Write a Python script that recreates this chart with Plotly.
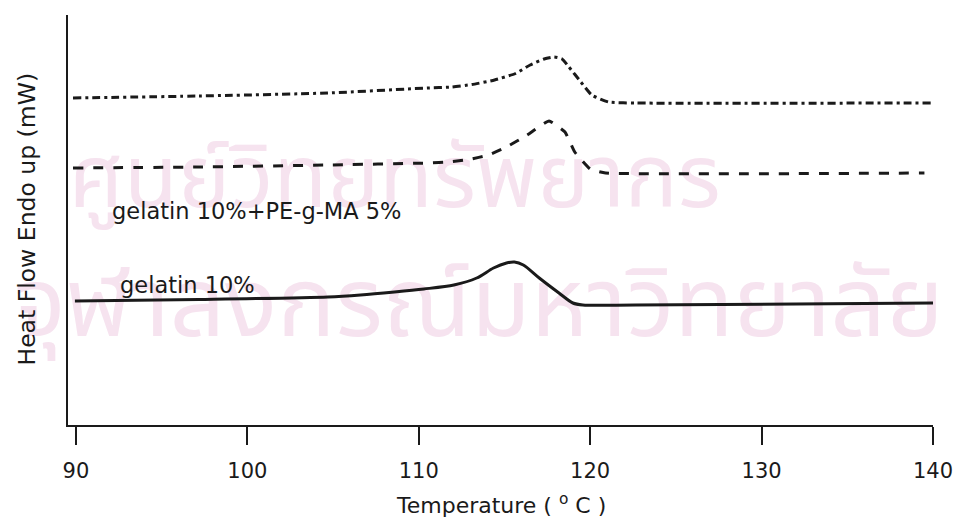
import plotly.graph_objects as go

# Data (temperature in °C, heat flow in arbitrary mW units)
t_solid = [89.94, 97.18, 104.70, 106.60, 108.58, 110.30, 112.05, 113.38, 114.36, 115.12, 115.58, 116.10, 117.03, 118.18, 118.99, 119.57, 122.64, 140.0]
hf_solid = [12.4, 12.55, 12.8, 13.0, 13.3, 13.6, 14.0, 14.7, 15.7, 16.2, 16.3, 16.0, 14.7, 13.2, 12.2, 12.0, 12.0, 12.2]

t_dash = [89.83, 97.18, 104.70, 110.60, 111.76, 112.92, 114.07, 115.12, 116.33, 117.60, 118.53, 119.10, 120.00, 120.90, 139.5]
hf_dash = [25.7, 25.8, 26.0, 26.2, 26.3, 26.55, 27.0, 27.8, 29.0, 30.4, 29.3, 27.3, 25.6, 25.2, 25.2]

t_dd = [89.83, 97.18, 104.70, 110.49, 111.93, 113.09, 114.42, 115.64, 116.50, 117.31, 117.89, 118.36, 118.76, 119.46, 120.09, 121.08, 122.64, 140.0]
hf_dd = [32.7, 32.9, 33.2, 33.7, 33.8, 34.05, 34.5, 35.15, 36.0, 36.6, 36.8, 36.6, 35.8, 34.3, 33.0, 32.3, 32.2, 32.2]

x_ticks = [90, 100, 110, 120, 130, 140]
labels = ["gelatin 10%+PE-g-MA 5%", "gelatin 10%"]
label_x = [91.97, 92.43]
label_y = [21.4, 14.0]

watermark = ["ศูนย์วิทยทรัพยากร", "จุฬาลงกรณ์มหาวิทยาลัย"]
wm_x = [108.6, 113.5]
wm_y = [24.0, 11.3]
wm_size = [88, 97]

FONT = "DejaVu Sans"
INK = "#1a1a1a"

fig = go.Figure()

for txt, wx, wy, ws in zip(watermark, wm_x, wm_y, wm_size):
    fig.add_trace(go.Scatter(
        x=[wx], y=[wy], mode="text", text=[txt],
        textfont=dict(family="Noto Sans Thai, Noto Sans, DejaVu Sans", size=ws, color="#f6e3ef"),
        cliponaxis=False, hoverinfo="skip", showlegend=False))

fig.add_trace(go.Scatter(x=t_dd, y=hf_dd, mode="lines",
    line=dict(color=INK, width=3, dash="8px,4px,3px,4px", shape="spline", smoothing=0.5),
    showlegend=False))
fig.add_trace(go.Scatter(x=t_dash, y=hf_dash, mode="lines",
    line=dict(color=INK, width=3, dash="10px,10px", shape="spline", smoothing=0.35),
    showlegend=False))
fig.add_trace(go.Scatter(x=t_solid, y=hf_solid, mode="lines",
    line=dict(color=INK, width=3, shape="spline", smoothing=0.8),
    showlegend=False))

for txt, lx, ly in zip(labels, label_x, label_y):
    fig.add_annotation(x=lx, y=ly, text=txt, showarrow=False, xanchor="left", yanchor="middle",
                       font=dict(family=FONT, size=22.5, color=INK))

fig.add_annotation(xref="paper", yref="paper", x=0.501, y=-0.192, text="Temperature ( <sup>o</sup> C )",
                   showarrow=False, xanchor="center", yanchor="middle",
                   font=dict(family=FONT, size=22, color=INK))
fig.add_annotation(xref="paper", yref="paper", x=-0.047, y=0.502, text="Heat Flow Endo up (mW)",
                   showarrow=False, xanchor="center", yanchor="middle", textangle=-90,
                   font=dict(family=FONT, size=23.5, color=INK))

fig.update_layout(
    width=965, height=520,
    margin=dict(l=68, r=25, t=15, b=95),
    paper_bgcolor="white", plot_bgcolor="white",
    font=dict(family=FONT, size=21, color=INK),
    xaxis=dict(range=[89.537, 140], tickvals=x_ticks, ticktext=[str(v) for v in x_ticks],
               showline=True, linecolor=INK, linewidth=2, ticks="outside", ticklen=18,
               tickwidth=2, tickcolor=INK, showgrid=False, zeroline=False,
               ticklabelstandoff=8),
    yaxis=dict(range=[0, 41], showline=True, linecolor=INK, linewidth=2,
               showticklabels=False, ticks="", showgrid=False, zeroline=False),
)

fig.write_html("out.html")
